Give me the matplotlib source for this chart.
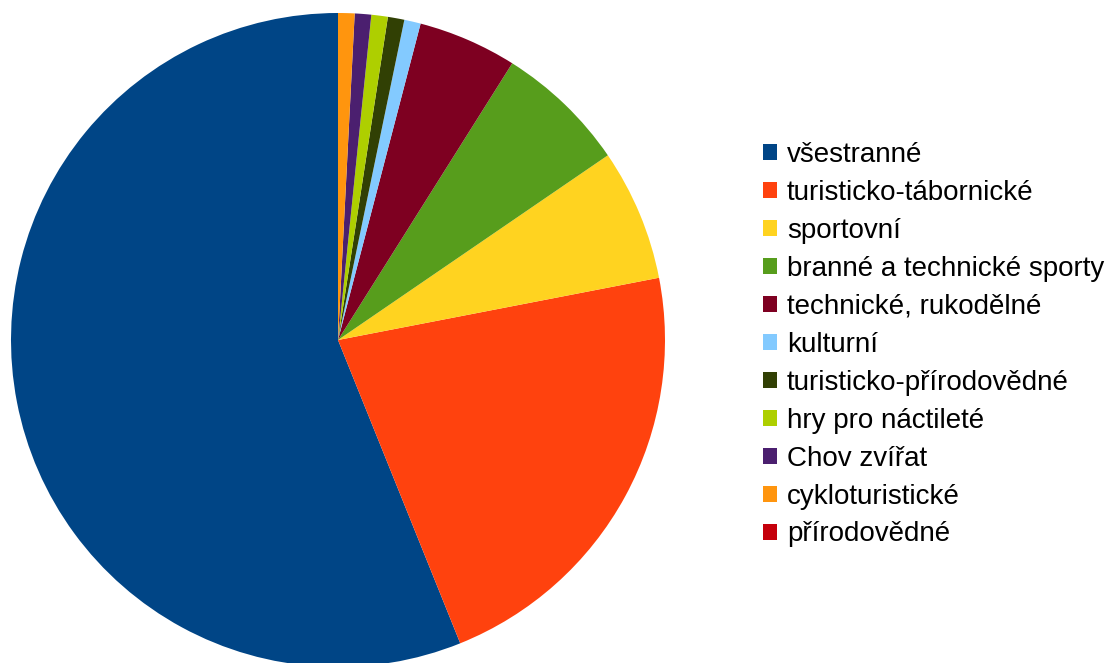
import matplotlib
matplotlib.use("Agg")
from matplotlib import pyplot as plt
from matplotlib.patches import Patch

labels = ["všestranné", "turisticko-tábornické", "sportovní",
          "branné a technické sporty", "technické, rukodělné", "kulturní",
          "turisticko-přírodovědné", "hry pro náctileté", "Chov zvířat",
          "cykloturistické", "přírodovědné"]
values = [69, 27, 8, 8, 6, 1, 1, 1, 1, 1, 0]
colors = ["#004586", "#ff420e", "#ffd320", "#579d1c", "#7e0021", "#83caff",
          "#314004", "#aecf00", "#4b1f6f", "#ff950e", "#c5000b"]

plt.rcParams['font.family'] = ['Liberation Sans', 'DejaVu Sans']

W, H = 1109, 663
fig = plt.figure(figsize=(W / 100, H / 100), dpi=100)
ax = fig.add_axes([0, 0, 1, 1])

# pie in pixel coordinates so the centre/radius can be matched directly
ax.pie(values, colors=colors, startangle=90, counterclock=True,
       center=(338, H - 340), radius=327,
       wedgeprops=dict(linewidth=0))
ax.set_xlim(0, W)
ax.set_ylim(0, H)
ax.set_aspect('equal')
ax.axis('off')

handles = [Patch(facecolor=c, edgecolor='none') for c in colors]
leg = ax.legend(handles, labels, loc='upper left',
                bbox_to_anchor=(763 / W, 1 - 142 / H),
                frameon=False, fontsize=20, handlelength=0.5,
                handleheight=0.5, handletextpad=0.36, labelspacing=0.43,
                borderaxespad=0, borderpad=0)

fig.savefig("out.png", dpi=100)
